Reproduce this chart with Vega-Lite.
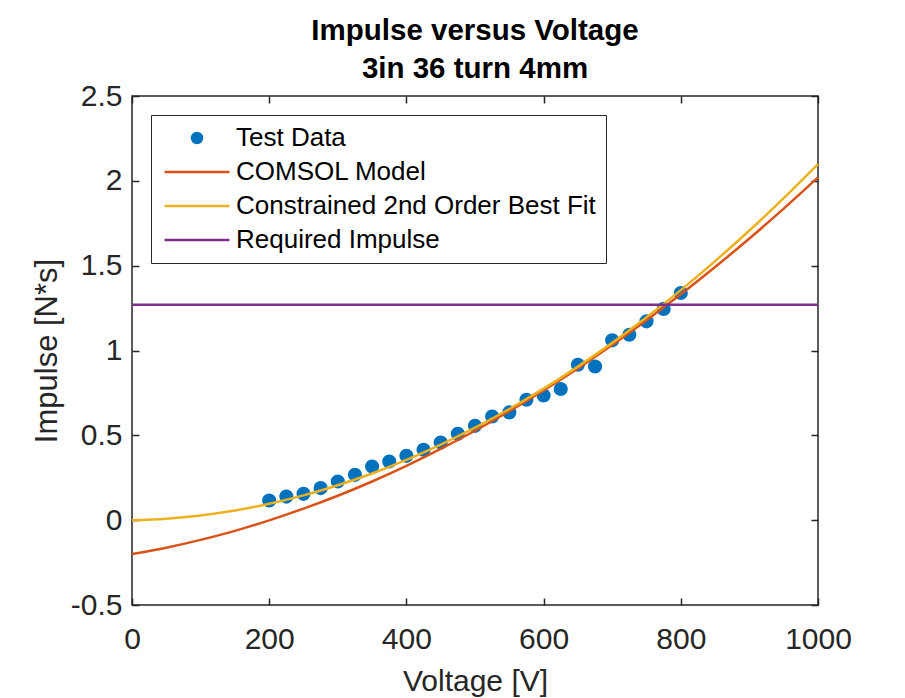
{
  "$schema": "https://vega.github.io/schema/vega-lite/v6.json",
  "width": 686,
  "height": 509,
  "autosize": {"type": "none"},
  "padding": {"left": 132, "top": 96, "right": 87, "bottom": 93},
  "background": "white",
  "title": {
    "text": ["Impulse versus Voltage", "3in 36 turn 4mm"],
    "font": "Liberation Sans",
    "fontSize": 29.5,
    "fontWeight": "bold",
    "color": "#000000",
    "anchor": "middle",
    "frame": "group",
    "lineHeight": 37.5,
    "offset": -3
  },
  "data": {
    "values": [
      {"series": "Test Data", "voltage": 200, "impulse": 0.116},
      {"series": "Test Data", "voltage": 225, "impulse": 0.139},
      {"series": "Test Data", "voltage": 250, "impulse": 0.155},
      {"series": "Test Data", "voltage": 275, "impulse": 0.189},
      {"series": "Test Data", "voltage": 300, "impulse": 0.228},
      {"series": "Test Data", "voltage": 325, "impulse": 0.267},
      {"series": "Test Data", "voltage": 350, "impulse": 0.316},
      {"series": "Test Data", "voltage": 375, "impulse": 0.346},
      {"series": "Test Data", "voltage": 400, "impulse": 0.379},
      {"series": "Test Data", "voltage": 425, "impulse": 0.415},
      {"series": "Test Data", "voltage": 450, "impulse": 0.458},
      {"series": "Test Data", "voltage": 475, "impulse": 0.509},
      {"series": "Test Data", "voltage": 500, "impulse": 0.556},
      {"series": "Test Data", "voltage": 525, "impulse": 0.611},
      {"series": "Test Data", "voltage": 550, "impulse": 0.635},
      {"series": "Test Data", "voltage": 575, "impulse": 0.71},
      {"series": "Test Data", "voltage": 600, "impulse": 0.735},
      {"series": "Test Data", "voltage": 625, "impulse": 0.773},
      {"series": "Test Data", "voltage": 650, "impulse": 0.916},
      {"series": "Test Data", "voltage": 675, "impulse": 0.906},
      {"series": "Test Data", "voltage": 700, "impulse": 1.06},
      {"series": "Test Data", "voltage": 725, "impulse": 1.093},
      {"series": "Test Data", "voltage": 750, "impulse": 1.172},
      {"series": "Test Data", "voltage": 775, "impulse": 1.245},
      {"series": "Test Data", "voltage": 800, "impulse": 1.339},
      {"series": "COMSOL Model", "voltage": 0, "impulse": -0.2},
      {"series": "COMSOL Model", "voltage": 50, "impulse": -0.162},
      {"series": "COMSOL Model", "voltage": 100, "impulse": -0.116},
      {"series": "COMSOL Model", "voltage": 150, "impulse": -0.063},
      {"series": "COMSOL Model", "voltage": 200, "impulse": -0.001},
      {"series": "COMSOL Model", "voltage": 250, "impulse": 0.068},
      {"series": "COMSOL Model", "voltage": 300, "impulse": 0.144},
      {"series": "COMSOL Model", "voltage": 350, "impulse": 0.228},
      {"series": "COMSOL Model", "voltage": 400, "impulse": 0.32},
      {"series": "COMSOL Model", "voltage": 450, "impulse": 0.42},
      {"series": "COMSOL Model", "voltage": 500, "impulse": 0.527},
      {"series": "COMSOL Model", "voltage": 550, "impulse": 0.642},
      {"series": "COMSOL Model", "voltage": 600, "impulse": 0.764},
      {"series": "COMSOL Model", "voltage": 650, "impulse": 0.894},
      {"series": "COMSOL Model", "voltage": 700, "impulse": 1.032},
      {"series": "COMSOL Model", "voltage": 750, "impulse": 1.178},
      {"series": "COMSOL Model", "voltage": 800, "impulse": 1.331},
      {"series": "COMSOL Model", "voltage": 850, "impulse": 1.492},
      {"series": "COMSOL Model", "voltage": 900, "impulse": 1.66},
      {"series": "COMSOL Model", "voltage": 950, "impulse": 1.836},
      {"series": "COMSOL Model", "voltage": 1000, "impulse": 2.02},
      {"series": "Constrained 2nd Order Best Fit", "voltage": 0, "impulse": 0},
      {"series": "Constrained 2nd Order Best Fit", "voltage": 50, "impulse": 0.009},
      {"series": "Constrained 2nd Order Best Fit", "voltage": 100, "impulse": 0.028},
      {"series": "Constrained 2nd Order Best Fit", "voltage": 150, "impulse": 0.057},
      {"series": "Constrained 2nd Order Best Fit", "voltage": 200, "impulse": 0.097},
      {"series": "Constrained 2nd Order Best Fit", "voltage": 250, "impulse": 0.146},
      {"series": "Constrained 2nd Order Best Fit", "voltage": 300, "impulse": 0.206},
      {"series": "Constrained 2nd Order Best Fit", "voltage": 350, "impulse": 0.275},
      {"series": "Constrained 2nd Order Best Fit", "voltage": 400, "impulse": 0.355},
      {"series": "Constrained 2nd Order Best Fit", "voltage": 450, "impulse": 0.445},
      {"series": "Constrained 2nd Order Best Fit", "voltage": 500, "impulse": 0.545},
      {"series": "Constrained 2nd Order Best Fit", "voltage": 550, "impulse": 0.655},
      {"series": "Constrained 2nd Order Best Fit", "voltage": 600, "impulse": 0.775},
      {"series": "Constrained 2nd Order Best Fit", "voltage": 650, "impulse": 0.905},
      {"series": "Constrained 2nd Order Best Fit", "voltage": 700, "impulse": 1.045},
      {"series": "Constrained 2nd Order Best Fit", "voltage": 750, "impulse": 1.196},
      {"series": "Constrained 2nd Order Best Fit", "voltage": 800, "impulse": 1.356},
      {"series": "Constrained 2nd Order Best Fit", "voltage": 850, "impulse": 1.527},
      {"series": "Constrained 2nd Order Best Fit", "voltage": 900, "impulse": 1.707},
      {"series": "Constrained 2nd Order Best Fit", "voltage": 950, "impulse": 1.898},
      {"series": "Constrained 2nd Order Best Fit", "voltage": 1000, "impulse": 2.099},
      {"series": "Required Impulse", "voltage": 0, "impulse": 1.27},
      {"series": "Required Impulse", "voltage": 1000, "impulse": 1.27}
    ]
  },
  "layer": [
    {
      "transform": [{"filter": "datum.series === 'Test Data'"}],
      "mark": {"type": "point", "filled": true, "size": 200, "opacity": 1},
      "encoding": {
        "x": {
          "field": "voltage", "type": "quantitative",
          "scale": {"domain": [0, 1000], "nice": false, "zero": false},
          "axis": {
            "orient": "bottom", "title": "Voltage [V]",
            "values": [0, 200, 400, 600, 800, 1000],
            "labelExpr": "'' + datum.value",
            "labelPadding": 26, "titlePadding": 12,
            "labelFont": "Liberation Sans", "titleFont": "Liberation Sans",
            "labelFontSize": 30, "titleFontSize": 30
          }
        },
        "y": {
          "field": "impulse", "type": "quantitative",
          "scale": {"domain": [-0.5, 2.5], "nice": false, "zero": false},
          "axis": {
            "orient": "left", "title": "Impulse [N*s]",
            "values": [-0.5, 0, 0.5, 1, 1.5, 2, 2.5],
            "labelExpr": "'' + datum.value",
            "labelPadding": 17, "titlePadding": 7,
            "labelFont": "Liberation Sans", "titleFont": "Liberation Sans",
            "labelFontSize": 30, "titleFontSize": 31
          }
        },
        "color": {
          "field": "series", "type": "nominal",
          "scale": {
            "domain": ["Test Data", "COMSOL Model", "Constrained 2nd Order Best Fit", "Required Impulse"],
            "range": ["#0072BD", "#D95319", "#EDB120", "#7E2F8E"]
          },
          "legend": {"title": null}
        },
        "shape": {
          "field": "series", "type": "nominal",
          "scale": {
            "domain": ["Test Data", "COMSOL Model", "Constrained 2nd Order Best Fit", "Required Impulse"],
            "range": ["circle", "M-6.5,0L6.5,0", "M-6.5,0L6.5,0", "M-6.5,0L6.5,0"]
          },
          "legend": {"title": null}
        }
      }
    },
    {
      "transform": [{"filter": "datum.series !== 'Test Data'"}],
      "mark": {"type": "line", "strokeWidth": 2.5, "interpolate": "monotone"},
      "encoding": {
        "x": {
          "field": "voltage", "type": "quantitative",
          "axis": {"orient": "top", "title": null, "labels": false, "values": [0, 200, 400, 600, 800, 1000]}
        },
        "y": {
          "field": "impulse", "type": "quantitative",
          "axis": {"orient": "right", "title": null, "labels": false, "values": [-0.5, 0, 0.5, 1, 1.5, 2, 2.5]}
        },
        "color": {
          "field": "series", "type": "nominal",
          "legend": {"title": null}
        }
      }
    }
  ],
  "resolve": {"axis": {"x": "independent", "y": "independent"}},
  "config": {
    "view": {"stroke": "#262626", "strokeWidth": 1.5},
    "axis": {
      "domain": false, "grid": false,
      "tickColor": "#262626", "tickSize": -7, "tickWidth": 1.5,
      "labelColor": "#262626", "titleColor": "#262626",
      "titleFontWeight": "normal",
      "labelFlush": false, "labelOverlap": false
    },
    "legend": {
      "orient": "top-left", "offset": 19,
      "padding": 10,
      "strokeColor": "#262626", "fillColor": "#ffffff",
      "labelFont": "Liberation Sans", "labelFontSize": 26, "labelColor": "#000000",
      "labelLimit": 600,
      "rowPadding": 8,
      "symbolOffset": 23,
      "labelOffset": 26,
      "symbolStrokeWidth": 2.5,
      "symbolSize": 100
    }
  }
}
